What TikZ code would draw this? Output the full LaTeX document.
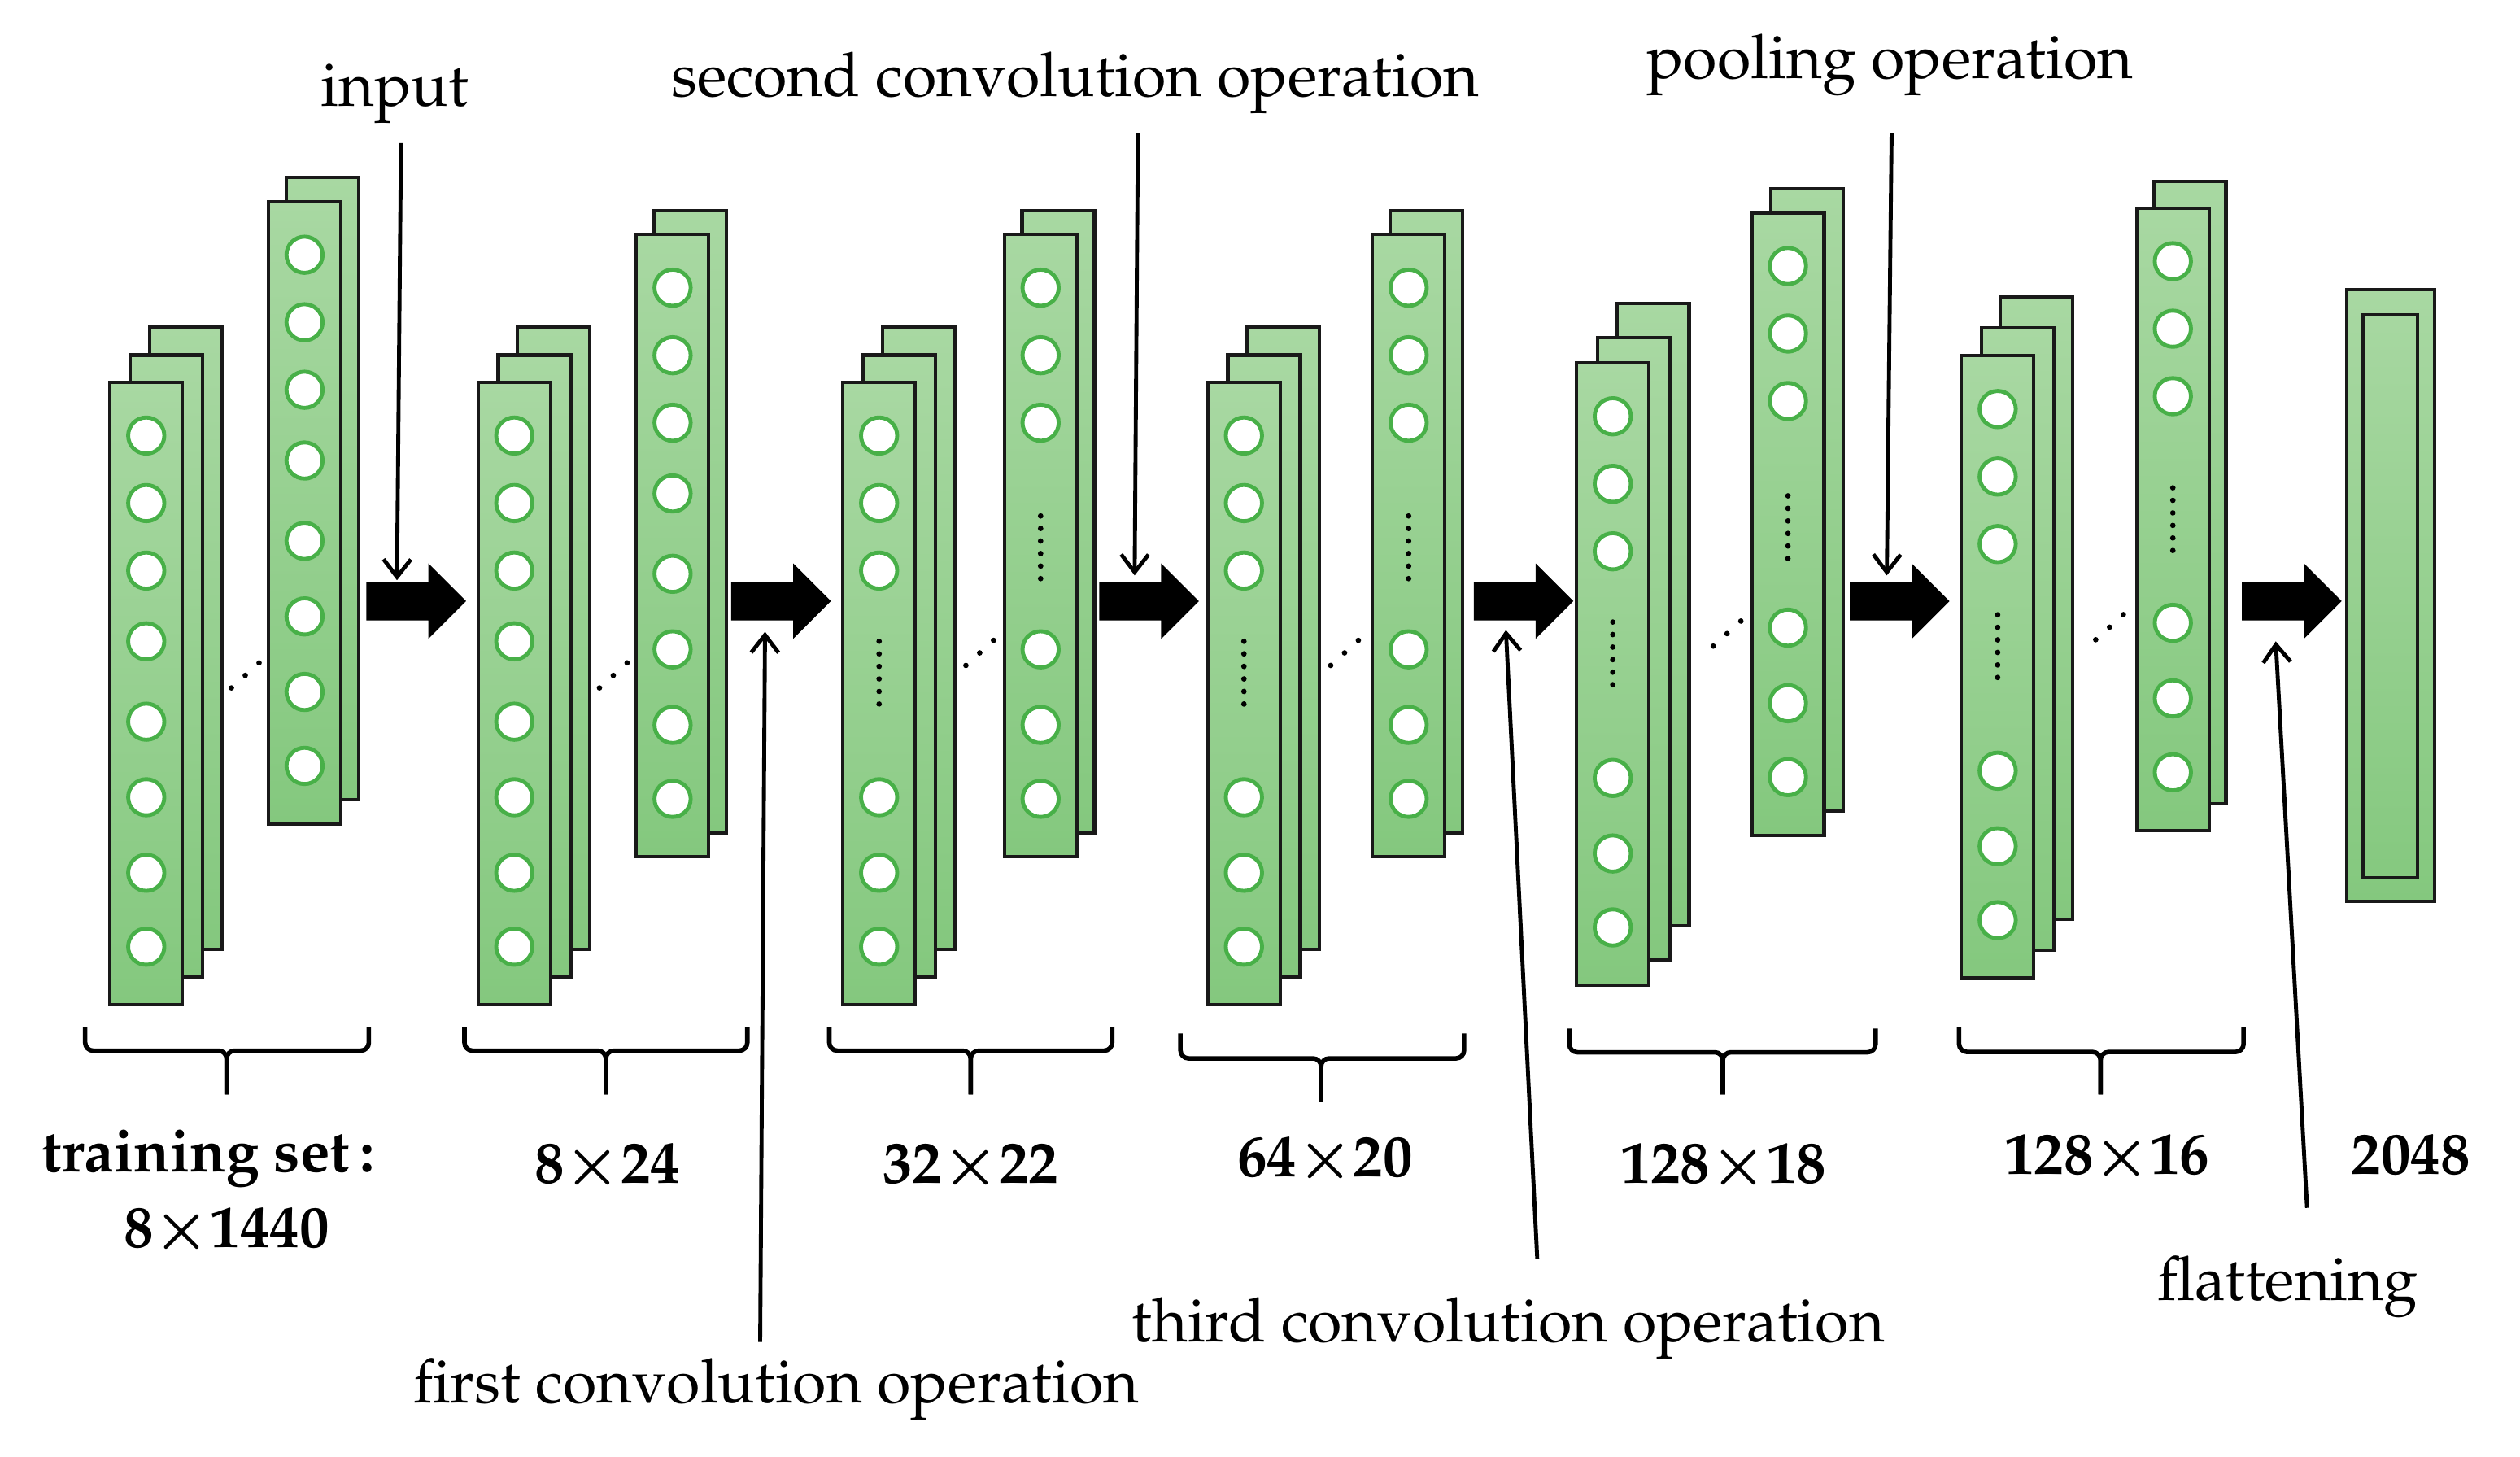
\documentclass[tikz,border=0pt]{standalone}
\usepackage[T1]{fontenc}
\usepackage{mathpazo}
\usetikzlibrary{arrows.meta,calc}
\definecolor{pgtop}{RGB}{168,216,162}
\definecolor{pgbot}{RGB}{132,200,126}
\definecolor{ncirc}{RGB}{72,176,72}
\definecolor{pborder}{RGB}{25,25,25}
\tikzset{
 panel/.style={rectangle, draw=pborder, line width=0.6pt, top color=pgtop, bottom color=pgbot,
   minimum width=0.45cm, minimum height=3.87cm, inner sep=0pt, outer sep=0pt},
 neuron/.style={circle, draw=ncirc, line width=0.7pt, fill=white, minimum size=0.225cm, inner sep=0pt},
 vdot/.style={circle, fill=black, minimum size=0.034cm, inner sep=0pt},
 pointer/.style={line width=0.7pt, -{Straight Barb[length=0.11cm,width=0.17cm]}},
 brace/.style={line width=0.8pt, rounded corners=0.05cm},
 lbl/.style={font=\fontsize{10.85}{13}\selectfont, inner sep=0pt, anchor=base},
 numlbl/.style={font=\fontsize{10.5}{12}\selectfont\bfseries, inner sep=0pt, anchor=base},
}
% panel: name, left, top
\newcommand\cnnpanel[3]{\node[panel] (#1) at ({#2+22.5},{#3+193.5}) {};}
% eight neurons: name, left, top
\newcommand\cnnfull[3]{\foreach \noff [count=\nidx] in {33,75,117,161,211,258,305,351}
  {\node[neuron] (#1n\nidx) at ({#2+22.5},{#3+\noff}) {};}}
% six neurons and a column of dots: name, left, top, dot offset
\newcommand\cnngap[4]{\foreach \noff [count=\nidx] in {33,75,117,258,305,351}
  {\node[neuron] (#1n\nidx) at ({#2+22.5},{#3+\noff}) {};}
  \foreach \nidx in {0,...,5}{\node[vdot] (#1v\nidx) at ({#2+22.5},{#3+#4+\nidx*7.8}) {};}}
% diagonal dots: name, x, y of the lowest dot
\newcommand\cnnddots[3]{\foreach \nidx in {0,1,2}{\node[vdot] (#1d\nidx) at ({#2+\nidx*8.6},{#3-\nidx*7.8}) {};}}
% block arrow from its left-centre coordinate
\newcommand\cnnblock[1]{\fill[black] (#1) ++(0,-12) -- ++(38.5,0) -- ++(0,-11.5) -- ++(23.5,23.5)
  -- ++(-23.5,23.5) -- ++(0,-11.5) -- ++(-38.5,0) -- cycle;}
% brace: left, right, top, horizontal, stem x, bottom
\newcommand\cnnbrace[6]{\draw[brace] (#1,#3) -- (#1,#4) -- (#5,#4) -- (#5,#6);
  \draw[brace] (#2,#3) -- (#2,#4) -- (#5,#4) -- (#5,#6);}
\begin{document}
\begin{tikzpicture}[x=0.01cm, y=-0.01cm]
\fill[white] (0,0) rectangle (1568,906);
\useasboundingbox (0,0) rectangle (1568,906);

% ---------- group 1: training set ----------
\cnnpanel{g1c}{93}{203.5}
\cnnpanel{g1b}{81}{221}
\cnnpanel{g1a}{68.5}{238}
\cnnfull{g1a}{68.5}{238}
\cnnddots{g1}{144}{428}
\cnnpanel{g1e}{178}{110.5}
\cnnpanel{g1d}{167}{125.5}
\cnnfull{g1d}{167}{125.5}

% ---------- group 2 ----------
\cnnpanel{g2c}{322}{203.5}
\cnnpanel{g2b}{310}{221}
\cnnpanel{g2a}{297.5}{238}
\cnnfull{g2a}{297.5}{238}
\cnnddots{g2}{373}{428}
\cnnpanel{g2e}{407}{131}
\cnnpanel{g2d}{396}{146}
\cnnfull{g2d}{396}{146}

% ---------- group 3 ----------
\cnnpanel{g3c}{549}{203.5}
\cnnpanel{g3b}{537}{221}
\cnnpanel{g3a}{524.5}{238}
\cnngap{g3a}{524.5}{238}{161}
\cnnddots{g3}{601}{414}
\cnnpanel{g3e}{636}{131}
\cnnpanel{g3d}{625}{146}
\cnngap{g3d}{625}{146}{175}

% ---------- group 4 ----------
\cnnpanel{g4c}{776}{203.5}
\cnnpanel{g4b}{764}{221}
\cnnpanel{g4a}{751.5}{238}
\cnngap{g4a}{751.5}{238}{161}
\cnnddots{g4}{828}{414}
\cnnpanel{g4e}{865}{131}
\cnnpanel{g4d}{854}{146}
\cnngap{g4d}{854}{146}{175}

% ---------- group 5 ----------
\cnnpanel{g5c}{1006}{189}
\cnnpanel{g5b}{994}{210}
\cnnpanel{g5a}{981}{226}
\cnngap{g5a}{981}{226}{161}
\cnnddots{g5}{1066}{402}
\cnnpanel{g5e}{1102}{117.5}
\cnnpanel{g5d}{1090}{132.5}
\cnngap{g5d}{1090}{132.5}{176}

% ---------- group 6 ----------
\cnnpanel{g6c}{1244.5}{185}
\cnnpanel{g6b}{1233}{204}
\cnnpanel{g6a}{1220.5}{221.5}
\cnngap{g6a}{1220.5}{221.5}{161}
\cnnddots{g6}{1304}{398}
\cnnpanel{g6e}{1340}{113}
\cnnpanel{g6d}{1329.5}{129.5}
\cnngap{g6d}{1329.5}{129.5}{174}

% ---------- flattened vector ----------
\node[panel, minimum width=0.55cm, minimum height=3.80cm] (flat) at (1487.5,370.5) {};
\node[rectangle, draw=pborder, line width=0.6pt, minimum width=0.335cm, minimum height=3.50cm,
  inner sep=0pt] (flatin) at (1487.3,371) {};

% ---------- block arrows ----------
\coordinate (A1) at (228,374);
\coordinate (A2) at (455,374);
\coordinate (A3) at (684,374);
\coordinate (A4) at (917,374);
\coordinate (A5) at (1151,374);
\coordinate (A6) at (1395,374);
\cnnblock{A1}\cnnblock{A2}\cnnblock{A3}\cnnblock{A4}\cnnblock{A5}\cnnblock{A6}

% ---------- braces ----------
\cnnbrace{53}{229.5}{639}{653.7}{141}{681}
\cnnbrace{289}{465}{639}{653.7}{377}{681}
\cnnbrace{516}{692}{639}{653.7}{604}{681}
\cnnbrace{734.5}{911}{643}{658.5}{822}{685.7}
\cnnbrace{976.5}{1167}{640}{654.7}{1072}{681}
\cnnbrace{1219}{1396}{639}{654.5}{1307}{681}

% ---------- size labels ----------
\node[numlbl] (ts) at (129.5,729) {training set\,:};
\node[numlbl] (s1) at (141,776) {8{\boldmath$\times$}1440};
\node[numlbl] (s2) at (378,736) {8{\boldmath$\times$}24};
\node[numlbl] (s3) at (604,736) {32{\boldmath$\times$}22};
\node[numlbl] (s4) at (824.5,732) {64{\boldmath$\times$}20};
\node[numlbl] (s5) at (1072.5,736) {128{\boldmath$\times$}18};
\node[numlbl] (s6) at (1311,730.5) {128{\boldmath$\times$}16};
\node[numlbl] (s7) at (1500,730.5) {2048};

% ---------- operation labels ----------
\node[lbl] (input) at (245.5,66) {input};
\node[lbl] (second) at (669,60) {second convolution operation};
\node[lbl] (pool) at (1176,49) {pooling operation};
\node[lbl] (first) at (483,873) {first convolution operation};
\node[lbl] (third) at (938.5,835) {third convolution operation};
\node[lbl] (flatlbl) at (1423.5,809) {flattening};

% ---------- pointers ----------
\draw[pointer] ([xshift=0.04cm,yshift=-0.23cm]input.base) -- ([xshift=0.19cm,yshift=0.13cm]A1);
\draw[pointer] ([xshift=0.39cm,yshift=-0.23cm]second.base) -- ([xshift=0.22cm,yshift=0.16cm]A3);
\draw[pointer] ([xshift=0.01cm,yshift=-0.34cm]pool.base) -- ([xshift=0.23cm,yshift=0.16cm]A5);
\draw[pointer] ([xshift=-0.10cm,yshift=0.38cm]first.base) -- ([xshift=0.21cm,yshift=-0.19cm]A2);
\draw[pointer] ([xshift=0.18cm,yshift=0.52cm]third.base) -- ([xshift=0.20cm,yshift=-0.18cm]A4);
\draw[pointer] ([xshift=0.12cm,yshift=0.575cm]flatlbl.base) -- ([xshift=0.21cm,yshift=-0.25cm]A6);
\end{tikzpicture}
\end{document}
